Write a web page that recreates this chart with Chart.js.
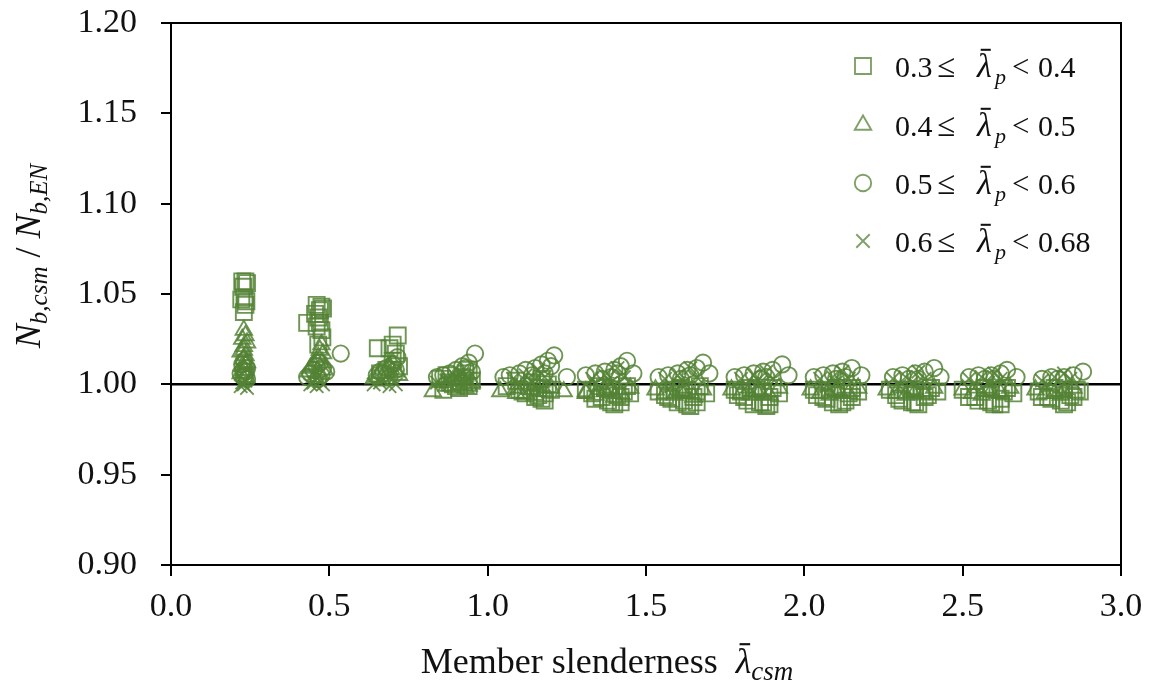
<!DOCTYPE html>
<html>
<head>
<meta charset="utf-8">
<script src="https://cdn.jsdelivr.net/npm/chart.js@4/dist/chart.umd.min.js"></script>
<style>
  html, body { margin: 0; padding: 0; background: #fff; }
  #wrap { width: 1154px; height: 688px; }
</style>
</head>
<body>
<div id="wrap"><canvas id="c" width="1154" height="688"></canvas></div>
<script>
// Normalised buckling resistance N_b,csm / N_b,EN against member slenderness
const sqX = [0.225,0.235,0.240,0.228,0.232,0.222,0.238,0.235,0.230,
  0.460,0.475,0.470,0.480,0.455,0.465,0.430,0.470,0.475,0.460,0.478,0.465,
  0.653,0.716,0.700,0.690,0.710,0.700,0.720,0.680,0.660,
  0.850,0.880,0.900,0.920,0.930,0.940,0.950,0.910,0.870,0.890,0.940,0.860,0.925,
  1.100,1.120,1.150,1.170,1.180,1.160,1.190,1.140,1.170,1.200,1.130,1.060,1.090,1.110,1.180,1.160,
  1.330,1.360,1.380,1.400,1.420,1.410,1.430,1.390,1.370,1.440,1.350,1.310,1.340,1.390,1.420,1.450,
  1.560,1.580,1.600,1.620,1.640,1.650,1.660,1.630,1.610,1.670,1.590,1.540,1.570,1.630,1.660,1.690,
  1.790,1.820,1.840,1.860,1.880,1.890,1.870,1.850,1.900,1.830,1.800,1.780,1.810,1.870,1.890,1.920,
  2.040,2.070,2.090,2.110,2.130,2.140,2.120,2.100,2.150,2.080,2.030,2.060,2.120,2.150,2.170,
  2.290,2.310,2.340,2.360,2.380,2.370,2.350,2.400,2.320,2.270,2.300,2.350,2.390,2.420,
  2.520,2.550,2.580,2.600,2.620,2.630,2.610,2.570,2.640,2.500,2.540,2.590,2.620,2.660,
  2.750,2.780,2.810,2.830,2.840,2.820,2.860,2.790,2.740,2.770,2.820,2.850,2.870];
const sqY = [1.057,1.057,1.056,1.054,1.048,1.047,1.046,1.044,1.040,
  1.044,1.043,1.041,1.042,1.039,1.037,1.034,1.034,1.030,1.032,1.026,1.022,
  1.020,1.027,1.022,1.020,1.017,1.013,1.010,1.008,1.006,
  1.003,1.001,0.999,1.004,1.006,1.008,1.002,0.998,1.005,1.000,0.999,0.997,1.001,
  0.997,0.995,0.993,0.992,0.995,0.998,1.000,1.001,1.003,0.997,0.999,0.999,1.002,0.996,0.991,0.994,
  0.995,0.993,0.991,0.989,0.990,0.994,0.996,0.997,0.998,0.999,0.999,0.997,0.992,0.990,0.993,0.995,
  0.994,0.992,0.990,0.991,0.988,0.993,0.996,0.997,0.998,0.999,0.997,0.996,0.993,0.989,0.990,0.995,
  0.994,0.991,0.989,0.990,0.988,0.993,0.996,0.997,0.998,0.998,0.996,0.997,0.993,0.990,0.989,0.995,
  0.994,0.992,0.990,0.989,0.991,0.995,0.997,0.998,0.998,0.997,0.997,0.993,0.990,0.993,0.996,
  0.994,0.991,0.990,0.989,0.993,0.996,0.997,0.998,0.997,0.997,0.992,0.990,0.994,0.996,
  0.993,0.991,0.991,0.989,0.992,0.996,0.997,0.998,0.998,0.997,0.993,0.990,0.989,0.995,
  0.993,0.992,0.991,0.990,0.994,0.997,0.997,0.998,0.996,0.993,0.989,0.993,0.996];

const triX = [0.230,0.235,0.225,0.240,0.230,0.220,0.235,0.228,0.240,0.225,0.232,0.220,0.238,0.230,0.236,
  0.475,0.470,0.480,0.465,0.460,0.450,0.440,0.435,0.470,0.485,0.455,0.445,0.478,
  0.700,0.690,0.680,0.660,0.650,0.710,0.720,0.670,0.640,
  0.827,0.870,0.890,0.910,0.930,0.950,0.920,0.860,0.940,
  1.040,1.090,1.090,1.120,1.150,1.180,1.200,1.240,1.140,
  1.310,1.310,1.340,1.370,1.400,1.420,1.450,1.390,
  1.530,1.560,1.590,1.620,1.650,1.680,1.610,
  1.770,1.800,1.830,1.860,1.890,1.920,1.850,
  2.020,2.050,2.080,2.110,2.140,2.170,2.100,
  2.260,2.290,2.320,2.350,2.380,2.410,2.340,
  2.500,2.530,2.560,2.590,2.620,2.650,2.580,
  2.730,2.760,2.790,2.820,2.850,2.810];
const triY = [1.030,1.027,1.025,1.023,1.021,1.018,1.016,1.014,1.012,1.010,1.008,1.006,1.004,1.019,1.011,
  1.022,1.019,1.017,1.015,1.013,1.011,1.009,1.007,1.006,1.008,1.004,1.010,1.012,
  1.012,1.010,1.008,1.006,1.004,1.007,1.005,1.002,1.003,
  0.996,0.999,1.002,1.000,0.998,1.001,1.003,1.001,0.999,
  0.996,0.998,0.995,0.995,0.994,0.996,0.998,0.996,0.997,
  0.996,0.995,0.994,0.996,0.993,0.995,0.998,0.997,
  0.997,0.995,0.994,0.995,0.993,0.997,0.996,
  0.997,0.995,0.994,0.996,0.994,0.998,0.996,
  0.997,0.995,0.994,0.996,0.995,0.998,0.996,
  0.997,0.995,0.994,0.996,0.995,0.998,0.996,
  0.997,0.995,0.994,0.996,0.995,0.998,0.996,
  0.997,0.995,0.995,0.996,0.998,0.994];

const cirX = [0.230,0.225,0.240,0.235,0.220,0.230,0.240,0.228,0.236,
  0.536,0.470,0.460,0.450,0.440,0.480,0.490,0.430,0.465,0.475,
  0.715,0.700,0.680,0.660,0.650,0.690,0.710,0.670,
  0.960,0.940,0.920,0.900,0.880,0.860,0.840,0.950,0.910,0.930,
  1.210,1.190,1.170,1.150,1.120,1.100,1.070,1.050,1.180,1.250,1.140,1.200,
  1.440,1.420,1.400,1.370,1.340,1.310,1.460,1.390,1.410,1.360,
  1.680,1.660,1.630,1.600,1.570,1.540,1.700,1.640,1.610,
  1.930,1.900,1.870,1.840,1.810,1.780,1.950,1.880,1.860,
  2.150,2.120,2.090,2.060,2.030,2.180,2.130,2.100,
  2.410,2.380,2.350,2.310,2.280,2.430,2.360,2.330,
  2.640,2.620,2.590,2.550,2.520,2.670,2.600,2.570,
  2.880,2.850,2.820,2.780,2.750,2.800];
const cirY = [1.013,1.011,1.009,1.007,1.006,1.004,1.003,1.008,1.005,
  1.017,1.012,1.010,1.008,1.006,1.009,1.007,1.004,1.003,1.005,
  1.015,1.011,1.009,1.007,1.005,1.004,1.008,1.006,
  1.017,1.012,1.010,1.008,1.006,1.005,1.004,1.007,1.003,1.009,
  1.016,1.013,1.011,1.009,1.008,1.006,1.005,1.004,1.006,1.004,1.005,1.010,
  1.013,1.010,1.008,1.007,1.006,1.005,1.006,1.004,1.006,1.003,
  1.012,1.009,1.008,1.006,1.005,1.004,1.006,1.005,1.003,
  1.011,1.008,1.007,1.006,1.005,1.004,1.005,1.004,1.003,
  1.009,1.007,1.006,1.005,1.004,1.005,1.004,1.003,
  1.009,1.007,1.006,1.005,1.004,1.004,1.003,1.003,
  1.008,1.006,1.005,1.005,1.004,1.004,1.003,1.003,
  1.007,1.005,1.004,1.004,1.003,1.003];

const crsX = [0.220,0.230,0.240,0.235,0.225,
  0.440,0.460,0.480,0.470,0.450,
  0.640,0.660,0.690,0.710,0.700,
  0.840,0.870,0.900,0.920,0.940,0.880,
  1.080,1.120,1.160,1.180,1.140,1.100,
  1.330,1.370,1.410,1.430,1.390,1.350,
  1.560,1.600,1.640,1.660,1.620,1.580,
  1.800,1.840,1.880,1.900,1.860,1.820,
  2.050,2.090,2.120,2.140,2.100,2.070,
  2.280,2.320,2.360,2.380,2.340,2.300,
  2.520,2.560,2.600,2.620,2.580,2.540,
  2.750,2.790,2.820,2.840,2.770];
const crsY = [0.999,1.000,0.998,1.002,1.001,
  1.000,0.999,1.000,1.002,1.001,
  1.000,1.001,0.999,1.000,1.003,
  1.001,1.002,1.004,1.006,1.003,1.000,
  1.003,1.005,1.008,1.004,1.001,0.999,
  1.003,1.005,1.009,1.004,1.001,0.999,
  1.003,1.005,1.009,1.004,1.001,0.999,
  1.003,1.005,1.007,1.003,1.001,0.999,
  1.003,1.004,1.007,1.003,1.001,0.999,
  1.003,1.004,1.007,1.003,1.001,0.999,
  1.003,1.004,1.006,1.003,1.001,0.999,
  1.002,1.004,1.006,1.003,0.999];

const xTicks = [0.0, 0.5, 1.0, 1.5, 2.0, 2.5, 3.0];
const yTicks = [0.90, 0.95, 1.00, 1.05, 1.10, 1.15, 1.20];
const seriesLabels = [['0.3', '0.4'], ['0.4', '0.5'], ['0.5', '0.6'], ['0.6', '0.68']];

const GREEN = 'rgba(84,130,53,0.85)';
const SERIF = '"Liberation Serif", "Times New Roman", serif';

function pts(xs, ys) { return xs.map((x, i) => ({ x: x, y: ys[i] })); }

const styles = [
  { pointStyle: 'rect', radius: 11.3 },
  { pointStyle: 'triangle', radius: 9.5 },
  { pointStyle: 'circle', radius: 8.2 },
  { pointStyle: 'crossRot', radius: 9.5 }
];
const seriesData = [pts(sqX, sqY), pts(triX, triY), pts(cirX, cirY), pts(crsX, crsY)];

const datasets = seriesData.map((d, i) => ({
  type: 'scatter',
  label: seriesLabels[i].join(' – '),
  data: d,
  pointStyle: styles[i].pointStyle,
  pointRadius: styles[i].radius,
  pointHoverRadius: styles[i].radius,
  pointBorderWidth: 1.9,
  pointBorderColor: GREEN,
  pointBackgroundColor: 'rgba(0,0,0,0)',
  order: 1
}));
// reference line at unity
datasets.push({
  type: 'line',
  label: 'unity',
  data: [{ x: 0, y: 1 }, { x: 3, y: 1 }],
  borderColor: '#000',
  borderWidth: 2.5,
  pointRadius: 0,
  order: 5
});

// draws a run of text pieces; returns total width
function runs(ctx, parts, x, y, measureOnly) {
  let cx = x;
  for (const p of parts) {
    if (p.at !== undefined && !measureOnly) cx = x + p.at;
    ctx.font = (p.it ? 'italic ' : '') + p.size + 'px ' + SERIF;
    const w = ctx.measureText(p.t).width;
    if (!measureOnly) {
      ctx.fillText(p.t, cx, y + (p.dy || 0));
      if (p.bar) {
        ctx.save();
        ctx.lineWidth = Math.max(1.3, p.size * 0.06);
        ctx.beginPath();
        const by = y + (p.dy || 0) - p.size * 0.80;
        ctx.moveTo(cx + w * 0.25, by);
        ctx.lineTo(cx + w * 0.80 + 2, by);
        ctx.stroke();
        ctx.restore();
      }
    }
    cx += w + (p.gap || 0);
  }
  return cx - x;
}

const decor = {
  id: 'decor',
  afterDraw(chart) {
    const ctx = chart.ctx;
    const a = chart.chartArea;
    ctx.save();
    // frame
    ctx.strokeStyle = '#000';
    ctx.lineWidth = 2;
    ctx.strokeRect(a.left, a.top, a.right - a.left, a.bottom - a.top);

    ctx.fillStyle = '#111';
    ctx.strokeStyle = '#111';
    ctx.textBaseline = 'alphabetic';

    // x axis title
    const xt = [
      { t: 'Member slenderness  ', size: 36 },
      { t: 'λ', size: 36, it: true, bar: true },
      { t: 'csm', size: 27, it: true, dy: 7 }
    ];
    const xw = runs(ctx, xt, 0, 0, true);
    runs(ctx, xt, 607 - xw / 2, 673);

    // y axis title
    const yt = [
      { t: 'N', size: 36, it: true },
      { t: 'b,csm', size: 25, it: true, dy: 7 },
      { t: ' / ', size: 36 },
      { t: 'N', size: 36, it: true },
      { t: 'b,EN', size: 25, it: true, dy: 7 }
    ];
    const yw = runs(ctx, yt, 0, 0, true);
    ctx.save();
    ctx.translate(40, 256);
    ctx.rotate(-Math.PI / 2);
    runs(ctx, yt, -yw / 2, 0);
    ctx.restore();

    // legend
    const rows = [66, 125, 183, 241];
    rows.forEach((ry, i) => {
      ctx.save();
      ctx.strokeStyle = 'rgba(84,130,53,0.75)';
      ctx.fillStyle = 'rgba(0,0,0,0)';
      ctx.lineWidth = 1.9;
      Chart.helpers.drawPoint(ctx, {
        pointStyle: styles[i].pointStyle,
        radius: styles[i].radius,
        rotation: 0,
        borderWidth: 1.9
      }, 863, ry);
      ctx.restore();
      const lp = [
        { t: seriesLabels[i][0], size: 30, at: 0 },
        { t: '≤', size: 33, at: 42 },
        { t: 'λ', size: 34, it: true, bar: true, at: 82 },
        { t: 'p', size: 22, it: true, dy: 7, at: 100 },
        { t: '<', size: 31, at: 117 },
        { t: seriesLabels[i][1], size: 30, at: 143 }
      ];
      runs(ctx, lp, 895, ry + 11);
    });
    ctx.restore();
  }
};

new Chart(document.getElementById('c'), {
  data: { datasets: datasets },
  options: {
    responsive: false,
    animation: false,
    events: [],
    layout: { padding: { top: 23, right: 33, left: 0, bottom: 0 } },
    plugins: { legend: { display: false }, tooltip: { enabled: false } },
    scales: {
      x: {
        type: 'linear',
        min: 0, max: 3,
        afterFit(s) { s.height = 123; s.paddingLeft = 0; s.paddingRight = 0; },
        afterBuildTicks(s) { s.ticks = xTicks.map(v => ({ value: v })); },
        border: { display: true, color: '#000', width: 2 },
        grid: { display: true, drawOnChartArea: false, drawTicks: true, tickLength: 11, color: '#000', lineWidth: 2 },
        ticks: {
          color: '#111', padding: 11,
          font: { family: SERIF, size: 34 },
          callback: v => v.toFixed(1)
        }
      },
      y: {
        type: 'linear',
        min: 0.9, max: 1.2,
        afterFit(s) { s.width = 171; s.paddingTop = 0; s.paddingBottom = 0; },
        afterBuildTicks(s) { s.ticks = yTicks.map(v => ({ value: v })); },
        border: { display: true, color: '#000', width: 2 },
        grid: { display: true, drawOnChartArea: false, drawTicks: true, tickLength: 10, color: '#000', lineWidth: 2 },
        ticks: {
          color: '#111', padding: 24,
          font: { family: SERIF, size: 34 },
          callback: v => v.toFixed(2)
        }
      }
    }
  },
  plugins: [decor]
});
</script>
</body>
</html>
